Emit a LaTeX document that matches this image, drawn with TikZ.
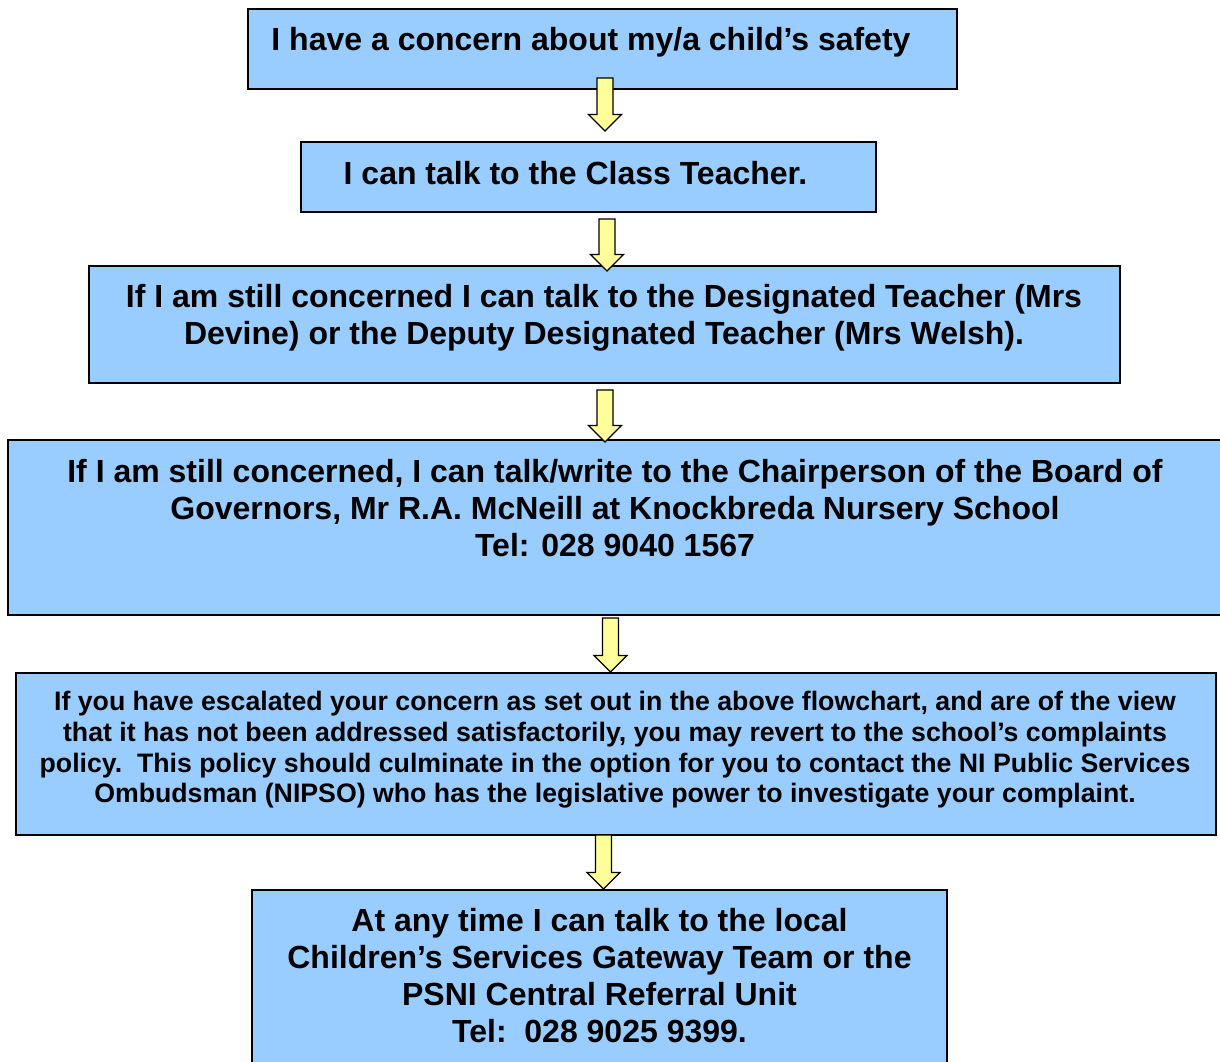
\documentclass[tikz,border=0pt]{standalone}
\usepackage{fontspec}
\setmainfont{Liberation Sans}
\usetikzlibrary{calc}
\definecolor{boxblue}{HTML}{99CCFF}
\definecolor{arrowyellow}{HTML}{FFFF99}
\tikzset{
  box/.style={draw=black, line width=2pt, fill=boxblue, inner sep=0pt},
  boxtext/.style={align=center, inner sep=0pt, font=\bfseries\fontsize{32}{37}\selectfont},
  smalltext/.style={boxtext, font=\bfseries\fontsize{26.7}{30.7}\selectfont},
  blockarrow/.style={draw=black, line width=1.3pt, fill=arrowyellow, line join=miter,
    to path={let \p1=(\tikztostart), \p2=(\tikztotarget) in
      (\x1-8pt,\y1) -- (\x1+8pt,\y1) -- (\x1+8pt,\y2+16.5pt) -- (\x1+16.5pt,\y2+16.5pt)
      -- (\x1,\y2) -- (\x1-16.5pt,\y2+16.5pt) -- (\x1-8pt,\y2+16.5pt) -- cycle}}
}
\begin{document}
\begin{tikzpicture}[x=1pt,y=1pt]
  \useasboundingbox (0,0) rectangle (1220,-1061);

  \node[box, minimum width=709, minimum height=80] (b1) at (602.5,-49) {};
  \node[box, minimum width=575, minimum height=70] (b2) at (588.5,-177) {};
  \node[box, minimum width=1031, minimum height=117] (b3) at (604.5,-324.5) {};
  \node[box, minimum width=1222, minimum height=175] (b4) at (619,-527.5) {};
  \node[box, minimum width=1200, minimum height=162] (b5) at (616,-754) {};
  \node[box, minimum width=695, minimum height=185] (b6) at (599.5,-982.5) {};

  \node[boxtext] (t1) at (591,-42) {I have a concern about my/a child’s safety};
  \node[boxtext] (t2) at (575.5,-173) {I can talk to the Class Teacher.};
  \node[boxtext] (t3) at (604,-318) {If I am still concerned I can talk to the Designated Teacher (Mrs\\
    Devine) or the Deputy Designated Teacher (Mrs Welsh).};
  \node[boxtext] (t4) at (615,-508) {If I am still concerned, I can talk/write to the Chairperson of the Board of\\
    Governors, Mr R.A. McNeill at Knockbreda Nursery School\\
    Tel: 028 9040 1567};
  \node[smalltext] (t5) at (615,-750) {If you have escalated your concern as set out in the above flowchart, and are of the view\\
    that it has not been addressed satisfactorily, you may revert to the school’s complaints\\
    policy.\ \ This policy should culminate in the option for you to contact the NI Public Services\\
    Ombudsman (NIPSO) who has the legislative power to investigate your complaint.};
  \node[boxtext] (t6) at (599.5,-976) {At any time I can talk to the local\\
    Children’s Services Gateway Team or the\\
    PSNI Central Referral Unit\\
    Tel:\ \ 028 9025 9399.};

  \draw[blockarrow] ([xshift=2.5pt,yshift=12pt]b1.south) to ([yshift=10pt]b2.north);
  \draw[blockarrow] ([xshift=18.5pt,yshift=-6pt]b2.south) to ([yshift=-6pt]b3.north);
  \draw[blockarrow] ([xshift=0.5pt,yshift=-6pt]b3.south) to ([yshift=-3pt]b4.north);
  \draw[blockarrow] ([xshift=-8.5pt,yshift=-2pt]b4.south) to (b5.north);
  \draw[blockarrow] ([xshift=-12.5pt,yshift=1pt]b5.south) to (b6.north);
\end{tikzpicture}
\end{document}
